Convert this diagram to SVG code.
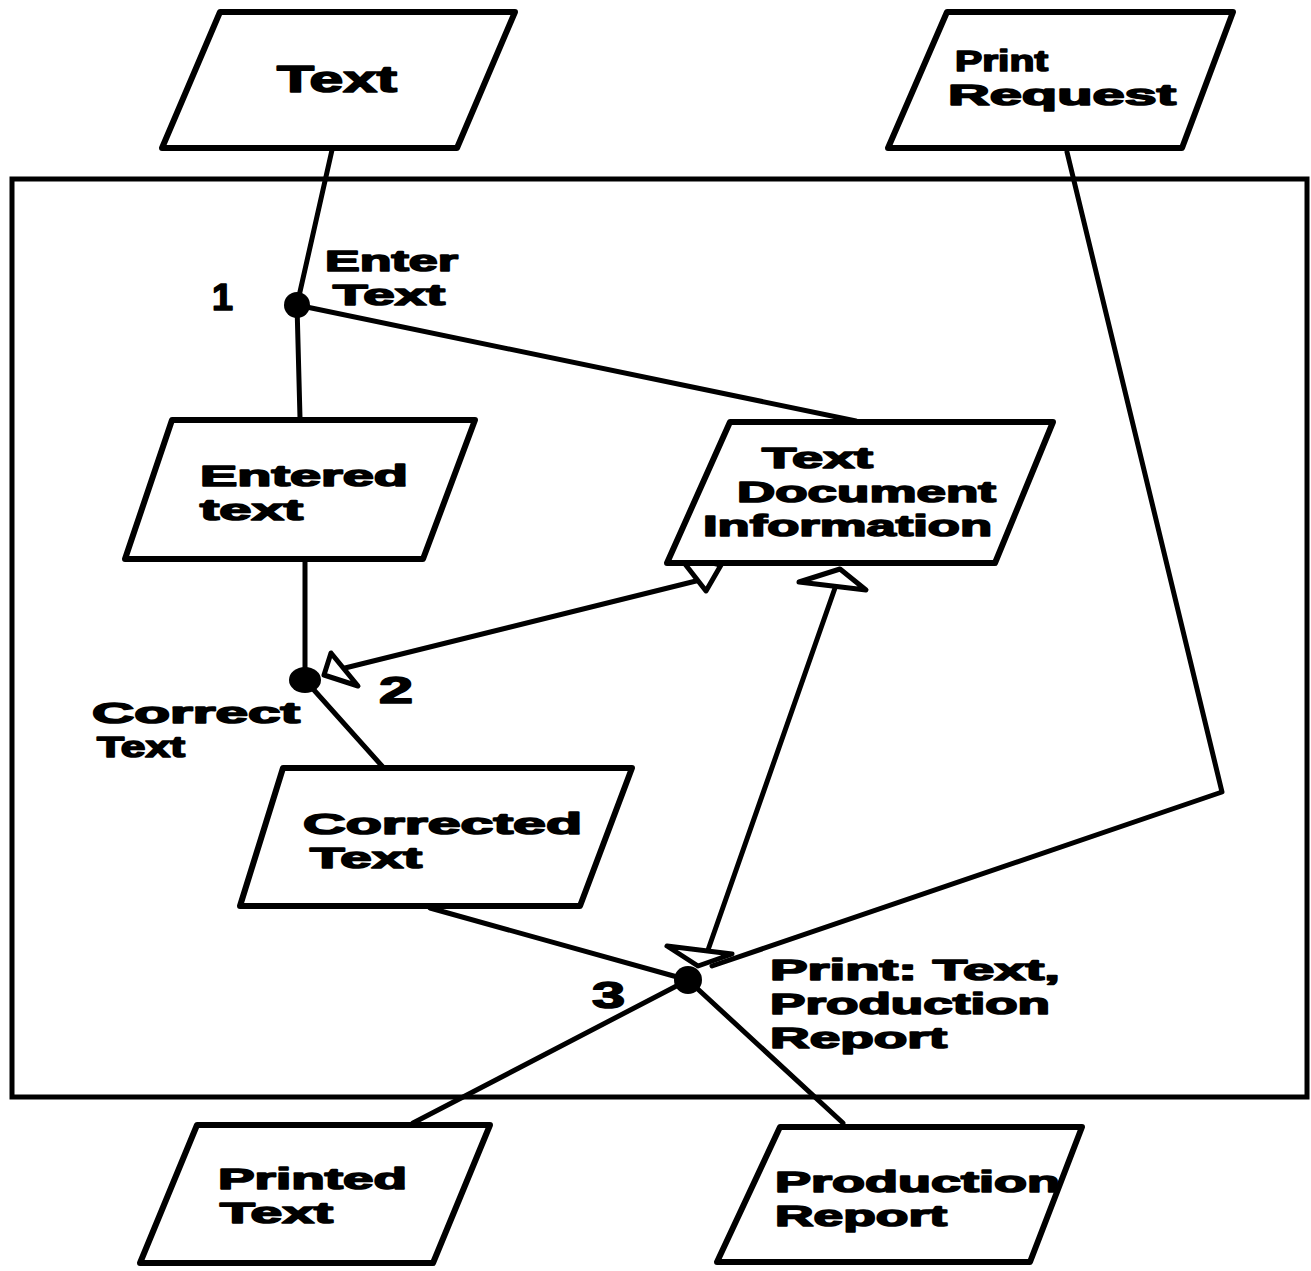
<svg xmlns="http://www.w3.org/2000/svg" width="1311" height="1271" viewBox="0 0 1311 1271">
  <style>
    .frame { fill: none; stroke: #000; stroke-width: 5; }
    .box { fill: #fff; stroke: #000; stroke-width: 6; stroke-linejoin: round; }
    .link { fill: none; stroke: #000; stroke-width: 5; stroke-linecap: round; stroke-linejoin: round; }
    .head { fill: #fff; stroke: #000; stroke-width: 5; stroke-linejoin: round; }
    .dot { fill: #000; }
    text { font-family: "Liberation Sans", Arial, sans-serif; font-weight: bold; font-size: 30px; fill: #000; stroke: #000; stroke-width: 1.6; stroke-linejoin: round; }
    text.big { font-size: 36px; }
  </style>

  <!-- system boundary -->
  <rect class="frame" x="12" y="179" width="1295" height="918"/>

  <!-- connectors -->
  <g id="connectors">
    <polyline class="link" points="332,150 297,305 300,418"/>
    <line class="link" x1="297" y1="305" x2="856" y2="421"/>
    <line class="link" x1="305" y1="562" x2="305" y2="680"/>
    <line class="link" x1="305" y1="680" x2="382" y2="766"/>
    <line class="link" x1="345" y1="668" x2="700" y2="580"/>
    <line class="link" x1="835" y1="588" x2="708" y2="950"/>
    <line class="link" x1="430" y1="908" x2="688" y2="980"/>
    <polyline class="link" points="1067,152 1222,792 712,966"/>
    <line class="link" x1="688" y1="980" x2="413" y2="1123"/>
    <line class="link" x1="688" y1="980" x2="843" y2="1123"/>
    <!-- open arrowheads -->
    <polygon class="head" points="331,653 358,686 324,675"/>
    <polygon class="head" points="678,555 721,565 706,591"/>
    <polygon class="head" points="840,569 866,590 799,582"/>
    <polygon class="head" points="667,946 732,954 698,966"/>
  </g>

  <!-- processes -->
  <g id="process-1">
    <circle class="dot" cx="297" cy="305" r="13"/>
    <text class="big" x="212" y="310" textLength="21" lengthAdjust="spacingAndGlyphs">1</text>
    <text><tspan x="325" y="271" textLength="133" lengthAdjust="spacingAndGlyphs">Enter</tspan><tspan x="333" y="305" textLength="112" lengthAdjust="spacingAndGlyphs">Text</tspan></text>
  </g>
  <g id="process-2">
    <ellipse class="dot" cx="305" cy="680" rx="16" ry="13"/>
    <text class="big" x="379" y="703" textLength="34" lengthAdjust="spacingAndGlyphs">2</text>
    <text><tspan x="92" y="723" textLength="208" lengthAdjust="spacingAndGlyphs">Correct</tspan><tspan x="97" y="757" textLength="88" lengthAdjust="spacingAndGlyphs">Text</tspan></text>
  </g>
  <g id="process-3">
    <circle class="dot" cx="688" cy="980" r="14"/>
    <text class="big" x="592" y="1008" textLength="33" lengthAdjust="spacingAndGlyphs">3</text>
    <text><tspan x="770" y="980" textLength="290" lengthAdjust="spacingAndGlyphs">Print: Text,</tspan><tspan x="770" y="1014" textLength="280" lengthAdjust="spacingAndGlyphs">Production</tspan><tspan x="770" y="1048" textLength="177" lengthAdjust="spacingAndGlyphs">Report</tspan></text>
  </g>

  <!-- data stores -->
  <g id="text-in">
    <polygon class="box" points="220,12 515,12 457,148 162,148"/>
    <text class="big" x="277" y="92" textLength="120" lengthAdjust="spacingAndGlyphs">Text</text>
  </g>
  <g id="print-request">
    <polygon class="box" points="947,12 1233,12 1182,148 888,148"/>
    <text><tspan x="955" y="71" textLength="93" lengthAdjust="spacingAndGlyphs">Print</tspan><tspan x="948" y="105" textLength="228" lengthAdjust="spacingAndGlyphs">Request</tspan></text>
  </g>
  <g id="entered-text">
    <polygon class="box" points="172,420 475,420 423,559 125,559"/>
    <text><tspan x="200" y="486" textLength="208" lengthAdjust="spacingAndGlyphs">Entered</tspan><tspan x="200" y="520" textLength="103" lengthAdjust="spacingAndGlyphs">text</tspan></text>
  </g>
  <g id="text-document-information">
    <polygon class="box" points="730,422 1053,422 995,563 667,563"/>
    <text><tspan x="762" y="468" textLength="111" lengthAdjust="spacingAndGlyphs">Text</tspan><tspan x="737" y="502" textLength="259" lengthAdjust="spacingAndGlyphs">Document</tspan><tspan x="703" y="536" textLength="289" lengthAdjust="spacingAndGlyphs">Information</tspan></text>
  </g>
  <g id="corrected-text">
    <polygon class="box" points="283,768 632,768 580,906 240,906"/>
    <text><tspan x="303" y="834" textLength="279" lengthAdjust="spacingAndGlyphs">Corrected</tspan><tspan x="310" y="868" textLength="112" lengthAdjust="spacingAndGlyphs">Text</tspan></text>
  </g>
  <g id="printed-text">
    <polygon class="box" points="197,1125 490,1125 433,1263 140,1263"/>
    <text><tspan x="218" y="1189" textLength="189" lengthAdjust="spacingAndGlyphs">Printed</tspan><tspan x="220" y="1223" textLength="113" lengthAdjust="spacingAndGlyphs">Text</tspan></text>
  </g>
  <g id="production-report">
    <polygon class="box" points="780,1127 1082,1127 1030,1262 717,1262"/>
    <text><tspan x="775" y="1192" textLength="285" lengthAdjust="spacingAndGlyphs">Production</tspan><tspan x="775" y="1226" textLength="172" lengthAdjust="spacingAndGlyphs">Report</tspan></text>
  </g>
</svg>
